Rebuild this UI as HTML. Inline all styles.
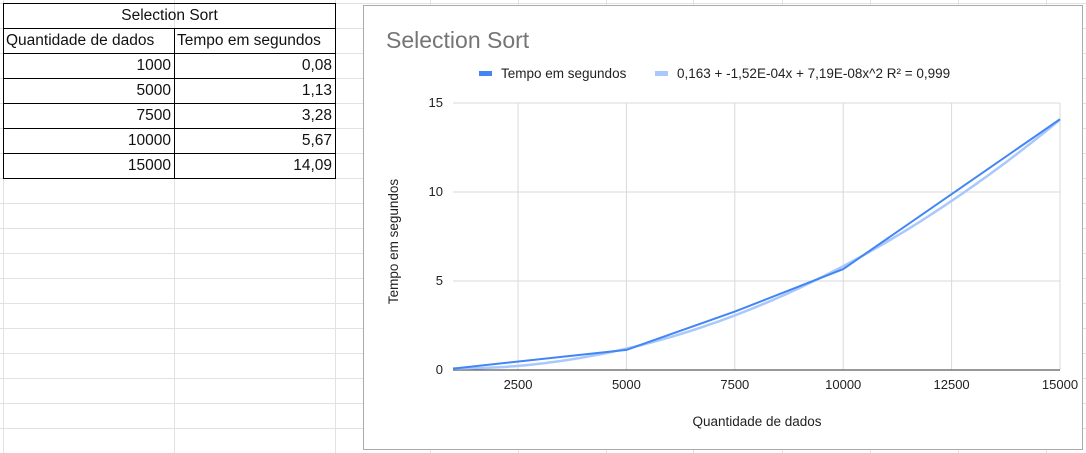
<!DOCTYPE html>
<html><head><meta charset="utf-8"><style>
body{margin:0;width:1086px;height:453px;background:#fff;position:relative;overflow:hidden;font-family:"Liberation Sans",sans-serif;}
#grid{position:absolute;left:0;top:0}
table.t{position:absolute;left:3px;top:3px;border-collapse:collapse;font-family:"Liberation Sans",sans-serif;font-size:15.5px;color:#111;}
table.t tr{height:25px}
table.t td{border:1px solid #000;height:25px;padding:0 3px;box-sizing:border-box;}
#chart{position:absolute;left:363px;top:5px;width:720px;height:445px;border:1px solid #aaa;box-sizing:border-box;background:#fff}
</style></head><body>
<svg id="grid" width="1086" height="453"></svg>
<table class="t">
<tr><td colspan="2" style="text-align:center;width:332px">Selection Sort</td></tr>
<tr><td style="width:171px;padding:0 2px">Quantidade de dados</td><td style="width:161px;padding:0 2px">Tempo em segundos</td></tr>
<tr><td align="right">1000</td><td align="right">0,08</td></tr>
<tr><td align="right">5000</td><td align="right">1,13</td></tr>
<tr><td align="right">7500</td><td align="right">3,28</td></tr>
<tr><td align="right">10000</td><td align="right">5,67</td></tr>
<tr><td align="right">15000</td><td align="right">14,09</td></tr>
</table>
<div id="chart">
<svg id="svg" width="720" height="445" style="position:absolute;left:-1px;top:-1px"></svg>
</div>
<script>
var xs=[1000,5000,7500,10000,15000];
var ys=[0.08,1.13,3.28,5.67,14.09];
var trendCoef=[0.163,-1.52e-4,7.19e-8];
var xTicks=[2500,5000,7500,10000,12500,15000];
var yTicks=[0,5,10,15];
var NS="http://www.w3.org/2000/svg";
function mk(p,t,a){var e=document.createElementNS(NS,t);for(var k in a)e.setAttribute(k,a[k]);p.appendChild(e);return e;}
var g=document.getElementById('grid');
for(var y=3;y<453;y+=25){var l=mk(g,'line',{x1:0,x2:1086,y1:y+0.5,y2:y+0.5,stroke:'#e2e2e2'});

}
[3,174,335,430,518,606,693,782,870,958,1046].forEach(function(x){var l=mk(g,'line',{x1:x+0.5,x2:x+0.5,y1:0,y2:453,stroke:'#e2e2e2'});

});
var s=document.getElementById('svg');var ox=363,oy=5;
var X0=1000,X1=15000,PX0=453-ox,PX1=1060-ox;var PY0=370-oy,PY1=103-oy;
function sx(v){return PX0+(v-X0)/(X1-X0)*(PX1-PX0);}
function sy(v){return PY0+(v-0)/15*(PY1-PY0);}
var t=mk(s,'text',{x:23,y:43,'font-size':23,fill:'#757575'});t.textContent='Selection Sort';


var lg=mk(s,'g',{});


mk(lg,'rect',{x:116,y:66,width:13,height:5,fill:'#4285f4'});
var a=mk(lg,'text',{x:138,y:73,'font-size':13.5,fill:'#222'});a.textContent='Tempo em segundos';
mk(lg,'rect',{x:292,y:66,width:13,height:5,fill:'#a9c8fb'});
var b=mk(lg,'text',{x:314,y:73,'font-size':13.5,fill:'#222'});b.textContent='0,163 + -1,52E-04x + 7,19E-08x^2 R² = 0,999';
xTicks.forEach(function(v){var l=mk(s,'line',{x1:sx(v),x2:sx(v),y1:sy(15),y2:sy(0),stroke:'#d9d9d9'});


var tx=mk(s,'text',{x:sx(v),y:sy(0)+19,'font-size':13,fill:'#222','text-anchor':'middle'});tx.textContent=v;

});
yTicks.forEach(function(v){var l=mk(s,'line',{x1:PX0,x2:PX1,y1:sy(v),y2:sy(v),stroke:v==0?'#333':'#d9d9d9'});


var tx=mk(s,'text',{x:PX0-10,y:sy(v)+4,'font-size':13,fill:'#222','text-anchor':'end'});tx.textContent=v;

});
var xt=mk(s,'text',{x:394,y:421,'font-size':13.5,fill:'#222','text-anchor':'middle'});xt.textContent='Quantidade de dados';


var yt=mk(s,'text',{x:0,y:0,'font-size':13.5,fill:'#222','text-anchor':'middle',transform:'translate(35,'+((PY0+PY1)/2+5)+') rotate(-90)'});yt.textContent='Tempo em segundos';


var pts=[];for(var i=0;i<=100;i++){var v=X0+(X1-X0)*i/100;var yv=trendCoef[0]+trendCoef[1]*v+trendCoef[2]*v*v;pts.push(sx(v).toFixed(1)+','+sy(yv).toFixed(1));}
var tr=mk(s,'polyline',{points:pts.join(' '),fill:'none',stroke:'#a9c8fb','stroke-width':2.5});


var sp=xs.map(function(v,i){return sx(v)+','+sy(ys[i]);}).join(' ');
var ln=mk(s,'polyline',{points:sp,fill:'none',stroke:'#4285f4','stroke-width':2});


</script>
</body></html>
